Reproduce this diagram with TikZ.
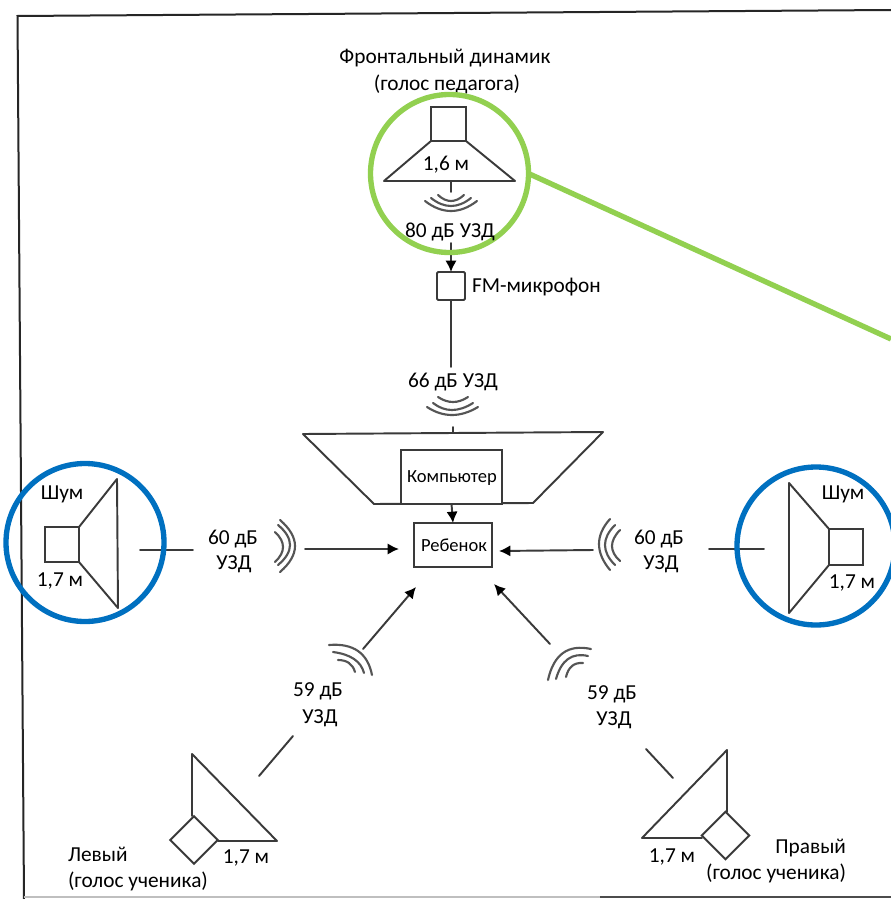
\documentclass[tikz,border=0pt]{standalone}
\usepackage{fontspec}
\setmainfont{Carlito}
\usetikzlibrary{calc,arrows.meta}
\newcommand{\wavearc}[3]{\draw[wave] (#1) .. controls ($1.3333*(#2)-0.3333*(#3)$) and ($1.3333*(#2)-0.3333*(#1)$) .. (#3);}
\tikzset{
  line/.style={draw=ink,line width=1.45pt,line cap=round,line join=round},
  arrowline/.style={line,-{Latex[length=8.5pt,width=8.5pt,color=black,fill=black]}},
  wave/.style={draw=wavegray,line width=1.6pt,line cap=round},
  thinbox/.style 2 args={draw=ink,line width=1.45pt,fill=white,inner sep=0pt,outer sep=0pt,minimum width=#1*0.75pt,minimum height=#2*0.75pt},
  label/.style={inner sep=0pt,outer sep=0pt,yshift=-0.75pt,text=black,font=\fontsize{16}{18}\selectfont},
  smalllabel/.style={label,font=\fontsize{13.9}{16}\selectfont},
  ring/.style={circle,inner sep=0pt,outer sep=0pt,minimum size=118.5pt,line width=4pt,draw=#1},
}
\definecolor{ink}{HTML}{3A3A3A}
\definecolor{wavegray}{HTML}{555555}
\definecolor{ringgreen}{HTML}{92D050}
\definecolor{ringblue}{HTML}{0070C0}
\begin{document}
\begin{tikzpicture}[x=0.75pt,y=-0.75pt]
\clip (0,0) rectangle (891,899);
\fill[white] (0,0) rectangle (891,899);
% page frame
\coordinate (fTL) at (17.5,16); \coordinate (fTR) at (891,10);
\coordinate (fBL) at (24,899); \coordinate (fB1) at (24,897);
\coordinate (fB2) at (600,897); \coordinate (fB3) at (891,897);
\draw[draw=black!85,line width=1.5pt] (fBL) -- (fTL) -- (fTR);
\draw[draw=black!25,line width=1pt] (fB1) -- (fB2);
\draw[draw=black!70,line width=1.2pt] (fB2) -- (fB3);

% front speaker
\node[thinbox={35}{34}] (frontBox) at (448.5,124) {};
\coordinate (frontL) at (384,181); \coordinate (frontR) at (515,181);
\draw[line] (frontBox.south west) -- (frontL) -- (frontR) -- (frontBox.south east);
\coordinate (frontStemTop) at (451,181); \coordinate (frontStemEnd) at (451,192);
\draw[line] (frontStemTop) -- (frontStemEnd);
\wavearc{425,201}{451,211}{477,201}
\wavearc{431,198}{451,206}{471,198}
\wavearc{438,195}{451,201}{464,195}
\coordinate (frontArrowStart) at (451,243);
\node[thinbox={28}{28},rounded corners=1pt] (fm) at (451,286) {};
\draw[arrowline] (frontArrowStart) -- (fm.north);
\coordinate (fmLineEnd) at (451,367);
\draw[line] (fm.south) -- (fmLineEnd);
\node[label,anchor=west] (fmText) at (472,286) {FM-микрофон};
\node[label] (frontT1) at (445,57) {Фронтальный динамик};
\node[label] (frontT2) at (447,83) {(голос педагога)};
\node[label] (frontLen) at (446,164) {1,6 м};

% 66 dB waves
\node[label] (t66) at (453,381) {66 дБ УЗД};
\wavearc{427,407}{452,415}{478,407}
\wavearc{433,403}{452,410}{473,403}
\wavearc{438,397}{453,402}{468,397}
\coordinate (c66top) at (453,427); \coordinate (c66bot) at (453,432);
\draw[line] (c66top) -- (c66bot);

% computer trapezoid
\coordinate (trA) at (303,434); \coordinate (trB) at (603,432);
\coordinate (trC) at (533,503); \coordinate (trD) at (374,504);
\draw[line] (trA) -- (trB) -- (trC) -- (trD) -- cycle;
\node[thinbox={101}{54}] (computer) at (451.5,477) {};
\node[smalllabel] (computerT) at (452,477) {Компьютер};
\node[thinbox={78}{44}] (child) at (453,545) {};
\node[smalllabel] (childT) at (454,544) {Ребенок};
\draw[arrowline] (computer.south) -- (child.north);

% horizontal arrows
\coordinate (lArrS) at (305,549); \coordinate (lArrE) at (399,549);
\draw[arrowline] (lArrS) -- (lArrE);
\coordinate (rArrS) at (593,550); \coordinate (rArrE) at (499,551);
\draw[arrowline] (rArrS) -- (rArrE);
\wavearc{280,520}{295,546}{280,572}
\wavearc{278,525}{290,545}{278,565}
\wavearc{275,532}{283,547}{275,562}
\wavearc{610,519}{599,544}{610,570}
\wavearc{615,525}{605,545}{615,565}
\wavearc{620,530}{612,546}{620,561}
\node[label] (l60a) at (233,538) {60 дБ};
\node[label] (l60b) at (234,563) {УЗД};
\node[label] (r60a) at (659,538) {60 дБ};
\node[label] (r60b) at (661,563) {УЗД};

% left noise speaker
\node[thinbox={34}{35}] (leftBox) at (62,544.5) {};
\coordinate (leftTop) at (117,479); \coordinate (leftBot) at (118,608);
\draw[line] (leftBox.north east) -- (leftTop) -- (leftBot) -- (leftBox.south east);
\coordinate (leftStub1) at (140,550); \coordinate (leftStub2) at (193,550);
\draw[line] (leftStub1) -- (leftStub2);
\node[label] (leftNoise) at (62,493) {Шум};
\node[label] (leftLen) at (60,580) {1,7 м};

% right noise speaker
\node[thinbox={34}{36}] (rightBox) at (846,547) {};
\coordinate (rightTop) at (789,483); \coordinate (rightBot) at (789,613);
\draw[line] (rightBox.north west) -- (rightTop) -- (rightBot) -- (rightBox.south west);
\coordinate (rightStub1) at (709,549); \coordinate (rightStub2) at (764,549);
\draw[line] (rightStub1) -- (rightStub2);
\node[label] (rightNoise) at (843,493) {Шум};
\node[label] (rightLen) at (852,582) {1,7 м};

% left pupil speaker
\node[draw=ink,line width=1.45pt,inner sep=0pt,outer sep=0pt,minimum width=25.2pt,minimum height=25.2pt,rotate=45,fill=white] (pupilL) at (194,840) {};
\coordinate (plTop) at (192,754); \coordinate (plRight) at (277,841);
\draw[line] (192,816) -- (plTop) -- (plRight) -- (218,841);
\coordinate (plStub1) at (259,776); \coordinate (plStub2) at (293,736);
\draw[line] (plStub1) -- (plStub2);
\coordinate (plArrS) at (363,649); \coordinate (plArrE) at (416,587);
\draw[arrowline] (plArrS) -- (plArrE);
\wavearc{329,645}{358,651}{372,675}
\wavearc{333,652}{354,659}{364,673}
\wavearc{338,660}{349,663}{355,672}
\node[label] (pl59a) at (318,690) {59 дБ};
\node[label] (pl59b) at (320,717) {УЗД};
\node[label] (plLen) at (246,857) {1,7 м};
\node[label,anchor=west] (plT1) at (68,853) {Левый};
\node[label,anchor=west] (plT2) at (68,880) {(голос ученика)};

% right pupil speaker
\node[draw=ink,line width=1.45pt,inner sep=0pt,outer sep=0pt,minimum width=25.2pt,minimum height=25.2pt,rotate=45,fill=white] (pupilR) at (725.5,835.5) {};
\coordinate (prTop) at (727,750); \coordinate (prLeft) at (642,838);
\draw[line] (727,812) -- (prTop) -- (prLeft) -- (702,838);
\coordinate (prStub1) at (646,749); \coordinate (prStub2) at (673,778);
\draw[line] (prStub1) -- (prStub2);
\coordinate (prArrS) at (550,644); \coordinate (prArrE) at (494,584);
\draw[arrowline] (prArrS) -- (prArrE);
\wavearc{591,649}{563,653}{548,680}
\wavearc{588,656}{568,659}{556,679}
\wavearc{583,663}{572,666}{566,677}
\node[label] (pr59a) at (612,693) {59 дБ};
\node[label] (pr59b) at (614,719) {УЗД};
\node[label] (prLen) at (672,856) {1,7 м};
\node[label,anchor=east] (prT1) at (846,847) {Правый};
\node[label,anchor=east] (prT2) at (846,872) {(голос ученика)};

% coloured rings
\node[ring=ringblue] (leftRing) at (85,542.5) {};
\node[ring=ringblue] (rightRing) at (816,546) {};
\node[ring=ringgreen] (frontRing) at (449.5,173.5) {};
\coordinate (greenEnd) at (891,339);
\draw[draw=ringgreen,line width=4pt] (frontRing.east) -- (greenEnd);
\node[label] (t80) at (450,231) {80 дБ УЗД};
\end{tikzpicture}
\end{document}
